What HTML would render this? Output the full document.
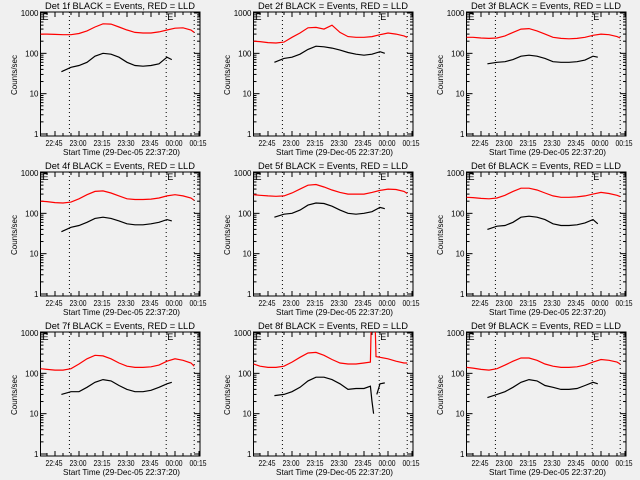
<!DOCTYPE html>
<html><head><meta charset="utf-8"><style>
html,body{margin:0;padding:0;background:#f0f0f0}
svg{display:block}
text{font-family:"Liberation Sans",sans-serif;fill:#000}
</style></head><body>
<svg id="c" width="640" height="480" viewBox="0 0 640 480"></svg>
<script>
const RT = [-9,-5,0,5,10,15,20,25,30,35,40,45,50,55,60,65,70,75,80,85,87];
const BT = [4,10,15,20,25,30,35,40,45,50,55,60,65,70,73];
const red1 = [300,300,295,290,290,310,360,450,540,530,450,380,330,320,320,340,380,420,430,380,330];
const black1 = [35,45,50,60,85,100,95,80,60,50,48,50,55,80,70];
const red2 = [200,195,185,180,190,250,320,430,440,400,500,330,260,250,250,260,290,320,300,270,250];
const black2 = [60,75,80,95,125,150,145,135,120,105,95,90,95,110,100];
const red3 = [250,250,240,235,240,270,330,400,410,360,300,250,235,230,235,250,280,300,290,260,240];
const black3 = [55,60,62,70,85,90,85,75,62,60,60,62,68,85,80];
const red4 = [200,195,185,180,190,230,290,350,360,320,270,230,220,220,225,240,270,290,270,240,210];
const black4 = [35,45,50,60,75,80,75,65,55,52,52,55,60,70,65];
const red5 = [290,280,270,265,270,320,400,500,520,450,380,330,300,300,300,330,370,400,390,350,310];
const black5 = [80,95,100,120,160,180,175,150,120,100,95,100,110,140,130];
const red6 = [250,245,235,230,240,280,350,420,420,380,320,270,250,250,255,270,300,330,310,280,260];
const black6 = [40,48,50,60,80,85,80,70,55,50,50,52,58,70,55];
const red7 = [130,125,120,120,130,170,230,280,270,230,180,150,140,140,145,160,200,230,210,180,150];
const black7 = [30,35,35,45,60,70,65,50,40,35,35,38,45,55,60];
const RT8 = [-9,-5,0,5,10,15,20,25,30,35,40,45,50,55,60,64,64.5,67,67.5,70,75,80,85,87];
const red8 = [170,150,140,140,150,190,250,320,330,280,220,180,170,170,180,190,1500,1500,260,250,230,200,180,180];
const BT8 = [4,10,15,20,25,30,35,40,45,50,55,60,64,65,66,67,68,70,73];
const black8 = [28,30,35,45,65,80,80,70,55,40,42,42,48,20,10,null,30,55,58];
const red9 = [140,135,125,120,130,160,200,240,240,210,170,150,140,140,145,160,190,220,210,190,170];
const black9 = [25,30,35,45,60,70,65,50,45,40,40,42,50,60,55];
const xTickLabels = ["22:45","23:00","23:15","23:30","23:45","00:00","00:15"];
const xTickTimes = [0,15,30,45,60,75,90];
const yTickValues = [1,10,100,1000];
const yTickLabels = ["1","10","100","1000"];
const dottedTimes = [9,69.5,87];

const panels = [
 {n:"1",rt:RT,r:red1,bt:BT,b:black1},{n:"2",rt:RT,r:red2,bt:BT,b:black2},{n:"3",rt:RT,r:red3,bt:BT,b:black3},
 {n:"4",rt:RT,r:red4,bt:BT,b:black4},{n:"5",rt:RT,r:red5,bt:BT,b:black5},{n:"6",rt:RT,r:red6,bt:BT,b:black6},
 {n:"7",rt:RT,r:red7,bt:BT,b:black7},{n:"8",rt:RT8,r:red8,bt:BT8,b:black8},{n:"9",rt:RT,r:red9,bt:BT,b:black9}];

const NS="http://www.w3.org/2000/svg";
const svg=document.getElementById('c');
const L=40.5,R=200,T=12,B=136;
function xs(t){return 55+t*1.6;}
function ys(v){return 134-Math.log10(v)*40.33;}
function mk(tag,attrs,parent){const e=document.createElementNS(NS,tag);for(const k in attrs)e.setAttribute(k,attrs[k]);parent.appendChild(e);return e;}
function pathFor(ts,vs){let d="",pen=false;for(let i=0;i<ts.length;i++){if(vs[i]==null){pen=false;continue;}d+=(pen?"L":"M")+xs(ts[i]).toFixed(1)+","+ys(vs[i]).toFixed(1);pen=true;}return d;}

panels.forEach((p,i)=>{
 const col=i%3,row=Math.floor(i/3);
 const g=mk('g',{transform:`translate(${col*213},${row*160})`},svg);
 
 
 const cp=mk('clipPath',{id:'cp'+i},g);mk('rect',{x:L,y:T,width:R-L,height:B-T},cp);
 const tt=mk('text',{x:45,y:9,'font-size':'9.5',textLength:150,lengthAdjust:'spacingAndGlyphs'},g);
 tt.textContent=`Det ${p.n}f BLACK = Events, RED = LLD`;
 
 
 const fr=mk('rect',{x:L,y:T,width:R-L,height:B-T,fill:'none',stroke:'#000','stroke-width':1},g);
 
 
 yTickValues.forEach((v,k)=>{const y=ys(v);
  mk('line',{x1:L,x2:L+6,y1:y,y2:y,stroke:'#000'},g);mk('line',{x1:R,x2:R-6,y1:y,y2:y,stroke:'#000'},g);
  const t=mk('text',{x:L-2,y:y+3,'text-anchor':'end','font-size':'8'},g);t.textContent=yTickLabels[k];
  
  
  if(k<yTickValues.length-1)for(let m=2;m<10;m++){const ym=ys(v*m);mk('line',{x1:L,x2:L+3,y1:ym,y2:ym,stroke:'#000'},g);mk('line',{x1:R,x2:R-3,y1:ym,y2:ym,stroke:'#000'},g);}
 });
 const yl=mk('text',{x:0,y:0,transform:`translate(17,75) rotate(-90)`,'text-anchor':'middle','font-size':'8',textLength:40,lengthAdjust:'spacingAndGlyphs'},g);
 yl.textContent='Counts/sec';
 
 
 for(let t=-5;t<=90;t+=5){const x=xs(t);if(x<L||x>R)continue;const len=(t%15===0)?5:3;
  mk('line',{x1:x,x2:x,y1:B,y2:B-len,stroke:'#000'},g);mk('line',{x1:x,x2:x,y1:T,y2:T+len,stroke:'#000'},g);}
 xTickTimes.forEach((t,k)=>{const x=xs(t);
  const lt=mk('text',{x:Math.min(x-1,198),y:146,'text-anchor':'middle','font-size':'8',textLength:17,lengthAdjust:'spacingAndGlyphs'},g);lt.textContent=xTickLabels[k];
  
  });
 const xt=mk('text',{x:63,y:155,'font-size':'8.5',textLength:117,lengthAdjust:'spacingAndGlyphs'},g);
 xt.textContent='Start Time (29-Dec-05 22:37:20)';
 
 
 dottedTimes.forEach(t=>{const x=xs(t);const dl=mk('line',{x1:x,x2:x,y1:T,y2:B,stroke:'#000','stroke-dasharray':'1,3'},g);
  
  });
 [L+2,xs(dottedTimes[1])+1].forEach(x=>{const e=mk('text',{x:x,y:T+8,'font-size':'9'},g);e.textContent='E';
  
  });
 const rl=mk('path',{d:pathFor(p.rt,p.r),fill:'none',stroke:'#ff0000','stroke-width':1.2,'clip-path':`url(#cp${i})`},g);
 
 
 const bl=mk('path',{d:pathFor(p.bt,p.b),fill:'none',stroke:'#000','stroke-width':1.2,'clip-path':`url(#cp${i})`},g);
 
 
});
</script>
</body></html>
